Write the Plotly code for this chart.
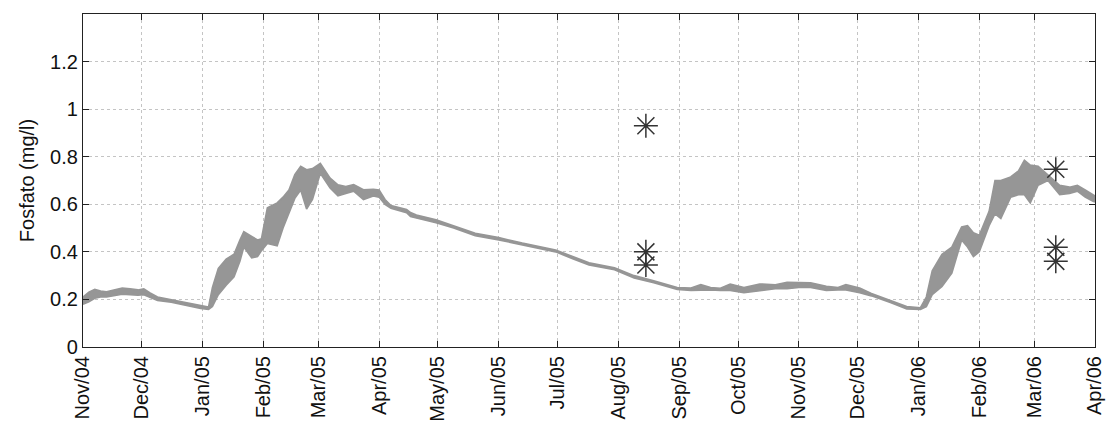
import pandas as pd
import plotly.graph_objects as go

# Série simulada de fosfato: envoltórias (máx/mín) da oscilação de maré,
# em dias contados a partir de 1/11/2004
inicio = pd.Timestamp("2004-11-01")
dias = [0, 3, 6, 9, 12, 16, 20, 24, 28, 31, 34, 38, 45, 54, 60, 64,
        66, 69, 73, 77, 80, 82, 86, 89, 91, 94, 99, 102, 105, 108, 111, 114,
        117, 121, 126, 130, 134, 138, 143, 148, 151, 154, 157, 165, 167, 170,
        180, 189, 200, 212, 224, 241, 250, 258, 271, 281, 291, 303, 310, 315,
        320, 325, 330, 337, 345, 353, 359, 365, 371, 379, 385, 389, 396, 402,
        412, 420, 427, 430, 433, 438, 443, 448, 451, 454, 457, 462, 465, 468,
        473, 477, 480, 483, 487, 492, 498, 503, 507, 511, 515, 516]
fosfato_max = [0.21, 0.23, 0.242, 0.235, 0.232, 0.24, 0.248, 0.245, 0.24, 0.245,
               0.228, 0.21, 0.198, 0.182, 0.172, 0.168,
               0.25, 0.33, 0.37, 0.39, 0.45, 0.485, 0.465, 0.45, 0.455, 0.585,
               0.606, 0.63, 0.66, 0.725, 0.76, 0.745,
               0.75, 0.772, 0.71, 0.682, 0.675, 0.683, 0.661, 0.663, 0.66, 0.62,
               0.595, 0.578, 0.565, 0.555,
               0.535, 0.51, 0.478, 0.46, 0.437, 0.408, 0.38, 0.354, 0.333, 0.3,
               0.278, 0.25, 0.248, 0.262,
               0.25, 0.247, 0.265, 0.25, 0.265, 0.262, 0.272, 0.272, 0.27, 0.255,
               0.25, 0.262, 0.248, 0.225,
               0.195, 0.17, 0.165, 0.21, 0.32, 0.39, 0.42, 0.505, 0.51, 0.48,
               0.47, 0.57, 0.70, 0.70,
               0.715, 0.74, 0.785, 0.765, 0.76, 0.723, 0.68, 0.672, 0.68, 0.66,
               0.64, 0.635]
fosfato_min = [0.18, 0.19, 0.205, 0.21, 0.21, 0.215, 0.222, 0.22, 0.218, 0.22,
               0.21, 0.196, 0.188, 0.172, 0.162, 0.158,
               0.17, 0.22, 0.26, 0.295, 0.36, 0.42, 0.375, 0.38, 0.405, 0.435,
               0.425, 0.50, 0.56, 0.625, 0.66, 0.58,
               0.62, 0.73, 0.668, 0.635, 0.645, 0.655, 0.62, 0.635, 0.63, 0.60,
               0.583, 0.565, 0.548, 0.542,
               0.522, 0.5, 0.468, 0.45, 0.428, 0.4, 0.37, 0.345, 0.325, 0.29,
               0.27, 0.242, 0.238, 0.24,
               0.24, 0.238, 0.238, 0.228, 0.237, 0.245, 0.245, 0.25, 0.25, 0.238,
               0.24, 0.24, 0.228, 0.215,
               0.186, 0.16, 0.158, 0.17, 0.22, 0.255, 0.31, 0.45, 0.42, 0.38,
               0.40, 0.51, 0.56, 0.54,
               0.63, 0.64, 0.64, 0.606, 0.68, 0.70, 0.64, 0.645, 0.655, 0.63,
               0.613, 0.61]

# Medições de campo
datas_obs = ["2005-08-15", "2005-08-15", "2005-08-15",
             "2006-03-12", "2006-03-12", "2006-03-12"]
fosfato_obs = [0.93, 0.40, 0.345, 0.747, 0.419, 0.36]

# Eixos
meses = ["2004-11-01", "2004-12-01", "2005-01-01", "2005-02-01", "2005-03-01",
         "2005-04-01", "2005-05-01", "2005-06-01", "2005-07-01", "2005-08-01",
         "2005-09-01", "2005-10-01", "2005-11-01", "2005-12-01", "2006-01-01",
         "2006-02-01", "2006-03-01", "2006-04-01"]
rotulos_meses = ["Nov/04", "Dec/04", "Jan/05", "Feb/05", "Mar/05", "Apr/05",
                 "May/05", "Jun/05", "Jul/05", "Aug/05", "Sep/05", "Oct/05",
                 "Nov/05", "Dec/05", "Jan/06", "Feb/06", "Mar/06", "Apr/06"]
y_ticks = [0, 0.2, 0.4, 0.6, 0.8, 1.0, 1.2]

datas = inicio + pd.to_timedelta(dias, unit="D")
cinza = "rgb(150,150,150)"

fig = go.Figure()
fig.add_trace(go.Scatter(x=datas, y=fosfato_min, mode="lines",
                         line=dict(color=cinza, width=1.6), showlegend=False,
                         hoverinfo="skip"))
fig.add_trace(go.Scatter(x=datas, y=fosfato_max, mode="lines",
                         line=dict(color=cinza, width=1.6), fill="tonexty",
                         fillcolor=cinza, showlegend=False))
fig.add_trace(go.Scatter(x=pd.to_datetime(datas_obs), y=fosfato_obs, mode="markers",
                         marker=dict(symbol="asterisk-open", size=20, color="#333333",
                                     line=dict(width=1.5, color="#333333")),
                         showlegend=False))

fonte = dict(family="Arial, Liberation Sans, sans-serif", size=20, color="#111111")

fig.update_layout(
    width=1118, height=434,
    margin=dict(l=83, r=15, t=14, b=83),
    plot_bgcolor="white", paper_bgcolor="white",
    font=fonte,
)
fig.update_xaxes(
    range=["2004-11-01", "2006-04-01"],
    tickmode="array", tickvals=meses, ticktext=rotulos_meses, tickangle=-90,
    ticks="inside", ticklen=6, tickcolor="#222222", tickwidth=1.2,
    showline=True, linecolor="#222222", linewidth=1.2, mirror="ticks",
    showgrid=True, gridcolor="#c4c4c4", griddash="dot", gridwidth=1,
    zeroline=False, tickfont=fonte,
)
fig.update_yaxes(
    range=[0, 1.4],
    tickmode="array", tickvals=y_ticks,
    ticks="inside", ticklen=6, tickcolor="#222222", tickwidth=1.2,
    showline=True, linecolor="#222222", linewidth=1.2, mirror="ticks",
    showgrid=True, gridcolor="#c4c4c4", griddash="dot", gridwidth=1,
    zeroline=False, tickfont=fonte,
    title=dict(text="Fosfato (mg/l)", font=fonte, standoff=10),
)

fig.write_html("out.html")
